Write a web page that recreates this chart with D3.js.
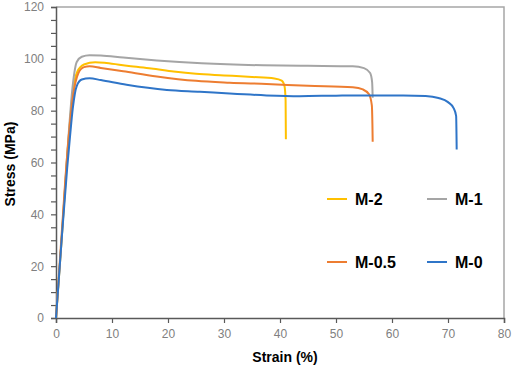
<!DOCTYPE html>
<html>
<head>
<meta charset="utf-8">
<script src="https://cdn.jsdelivr.net/npm/d3@7"></script>
<style>
  body { margin: 0; background: #fff; }
  svg { display: block; font-family: "Liberation Sans", Arial, sans-serif; }
</style>
</head>
<body>
<div class="vis"></div>
<script>
// strain (%) / stress (MPa) pairs
const m2 = [[0,0],[1,30],[2,62],[3,87],[3.8,95],[5,97.8],[7,98.7],[9,98.4],[13,97.2],[17,96.3],[21,95.1],[25,94.2],[30,93.6],[35,93.0],[39,92.4],[40.3,91.6],[40.8,89.5],[41.0,84],[41.05,69]];
const m1 = [[0,0],[1,30],[2,63],[3,90],[3.7,98.8],[4.6,100.8],[6,101.4],[8,101.3],[12,100.5],[18,99.4],[26,98.3],[37,97.5],[45,97.3],[53,97.1],[55,96.4],[56.1,94.5],[56.45,91],[56.55,85]];
const m05 = [[0,0],[1,32],[2,63],[3,85],[4,94.5],[5,96.8],[6,97.1],[8,96.5],[12,95.2],[18,93.2],[25,91.5],[31,90.8],[37.6,90.3],[45,89.6],[53,89.0],[54.8,88.2],[55.9,86.3],[56.4,82],[56.5,75],[56.55,68]];
const m0 = [[0,0],[1,30],[2,58],[2.5,70],[3,81],[3.7,89.5],[4.6,92],[6,92.5],[8,91.8],[12.6,90],[19.8,88],[25.7,87.3],[31,86.6],[37.6,85.9],[43.5,85.6],[50,85.8],[55.4,85.9],[62,85.9],[66,85.7],[68.3,84.9],[70,83.3],[71,81],[71.45,78],[71.55,65]];

const seriesNames = ["M-2", "M-1", "M-0.5", "M-0"];
const seriesData = [m2, m1, m05, m0];
const seriesColors = ["#ffc000", "#a5a5a5", "#ed7d31", "#2f75c8"];

const xTicks = [0, 10, 20, 30, 40, 50, 60, 70, 80];
const yTicks = [0, 20, 40, 60, 80, 100, 120];

const margin = { top: 7, right: 8, bottom: 53, left: 56 };
const width = 512 - margin.left - margin.right,
    height = 371 - margin.top - margin.bottom;

const svg = d3.select(".vis")
    .append("svg")
    .attr("width", 512)
    .attr("height", 371);

const g = svg.append("g")
    .attr("transform", "translate(" + margin.left + "," + margin.top + ")");

const xScale = d3.scaleLinear().domain([0, 80]).range([0, width]);
const yScale = d3.scaleLinear().domain([0, 120]).range([height, 0]);

// frame (top + right)
g.append("path")
    .attr("d", "M0,0H" + width + "V" + height)
    .attr("fill", "none")
    .attr("stroke", "#a6a6a6")
    .attr("stroke-width", 1.5);

const xAxis = g.append("g")
    .attr("transform", "translate(0," + height + ")")
    .call(d3.axisBottom(xScale).tickValues(xTicks).tickSize(5).tickPadding(6));

const yAxis = g.append("g")
    .call(d3.axisLeft(yScale).ticks(24).tickSize(5).tickPadding(7)
        .tickFormat(d => yTicks.includes(d) ? d : ""));

[xAxis, yAxis].forEach(a => {
    a.select(".domain").attr("stroke", "#595959").attr("stroke-width", 1.5);
    a.selectAll(".tick line").attr("stroke", "#595959").attr("stroke-width", 1.2);
    a.selectAll("text").attr("fill", "#808080").style("font-size", "12px")
        .style("font-family", '"Liberation Sans", Arial, sans-serif');
});

const line = d3.line()
    .x(d => xScale(d[0]))
    .y(d => yScale(d[1]))
    .curve(d3.curveMonotoneX);

g.append("g")
    .selectAll("path")
    .data(seriesData)
    .join("path")
    .attr("d", line)
    .attr("fill", "none")
    .attr("stroke", (d, i) => seriesColors[i])
    .attr("stroke-width", 2);

// legend, 2 x 2
const legend = g.append("g");
const legPos = [[271, 192], [371, 192], [271, 255], [371, 255]];
seriesNames.forEach((name, i) => {
    const [lx, ly] = legPos[i];
    legend.append("line")
        .attr("x1", lx).attr("x2", lx + 20)
        .attr("y1", ly).attr("y2", ly)
        .attr("stroke", seriesColors[i])
        .attr("stroke-width", 2);
    legend.append("text")
        .attr("x", lx + 28)
        .attr("y", ly + 6)
        .text(name)
        .style("font-size", "16px")
        .style("font-weight", "bold")
        .attr("fill", "#000");
});

svg.append("text")
    .attr("x", 285)
    .attr("y", 362)
    .attr("text-anchor", "middle")
    .text("Strain (%)")
    .style("font-size", "14px")
    .style("font-weight", "bold");

svg.append("text")
    .attr("transform", "translate(15,164) rotate(-90)")
    .attr("text-anchor", "middle")
    .text("Stress (MPa)")
    .style("font-size", "14px")
    .style("font-weight", "bold");
</script>
</body>
</html>
